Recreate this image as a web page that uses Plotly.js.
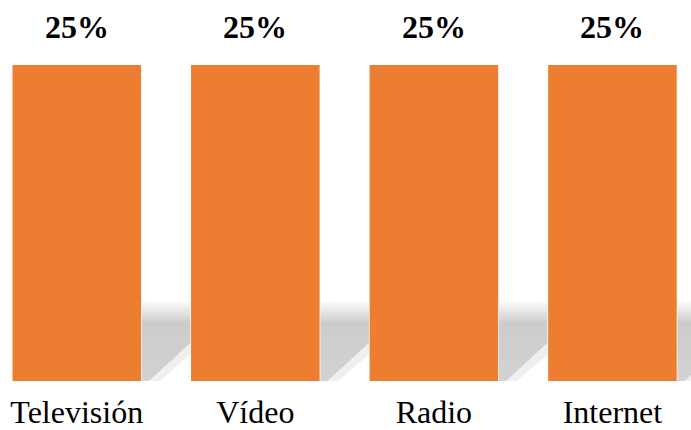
<!DOCTYPE html>
<html><head><meta charset="utf-8">
<script src="https://cdn.plot.ly/plotly-3.0.1.min.js"></script>
<style>html,body{margin:0;padding:0;background:#fff}#chart{width:691px;height:430px}</style>
</head><body><div id="chart"></div>
<script>
const categories = ['Televisión', 'Vídeo', 'Radio', 'Internet'];
const values = [25, 25, 25, 25];
const labels = ['25%', '25%', '25%', '25%'];

// decorative shadow geometry (style constants, in bar-relative units)
const shadowTop = 6.4;
const shadowFadeY = 3.0;
const barWidth = 0.72;

const idx = categories.map((c, i) => i);
const serif = '"Liberation Serif", "Times New Roman", serif';

const sx = [], sy = [], fx = [], fy = [];
idx.forEach(i => {
  const r = i + barWidth / 2 + 0.004;
  const nl = i + 1 - barWidth / 2 - 0.004;
  sx.push(r, r, nl, nl, r + 0.04, r, null);
  sy.push(0, shadowTop, shadowTop, shadowFadeY, 0, 0, null);
  // soft halo along the diagonal edge
  fx.push(r + 0.04, nl, nl, r + 0.1, r + 0.04, null);
  fy.push(0, shadowFadeY, shadowFadeY - 0.9, 0, 0, null);
});

const traces = [
  {type: 'scatter', mode: 'none', x: fx, y: fy, fill: 'toself', connectgaps: false,
   fillcolor: 'rgba(220,220,220,0.45)', hoverinfo: 'skip', showlegend: false},
  {type: 'scatter', mode: 'none', x: sx, y: sy, fill: 'toself', connectgaps: false,
   fillgradient: {type: 'vertical', start: 0, stop: shadowTop,
     colorscale: [[0, '#d2d2d2'], [0.72, '#cccccc'], [0.86, '#e6e6e6'], [1, '#ffffff']]},
   hoverinfo: 'skip', showlegend: false},
  {type: 'bar', x: idx, y: values, width: barWidth, marker: {color: '#ED7D31'}, showlegend: false}
];

const layout = {
  width: 691, height: 430,
  margin: {l: 0, r: 0, t: 65, b: 49},
  paper_bgcolor: '#fff', plot_bgcolor: '#fff',
  font: {family: serif},
  xaxis: {range: [-0.43, 3.44], tickmode: 'array', tickvals: idx, ticktext: categories,
          showgrid: false, zeroline: false, showline: false, ticks: '', ticklabelstandoff: 9,
          tickfont: {family: serif, size: 32, color: '#000'}},
  yaxis: {range: [0, 25], visible: false, fixedrange: true},
  annotations: idx.map(i => ({x: i, y: values[i], xref: 'x', yref: 'y', text: '<b>' + labels[i] + '</b>',
    showarrow: false, yanchor: 'bottom', yshift: 18,
    font: {family: serif, size: 32, color: '#000'}}))
};

Plotly.newPlot('chart', traces, layout, {displayModeBar: false, staticPlot: true});
</script>
</body></html>
